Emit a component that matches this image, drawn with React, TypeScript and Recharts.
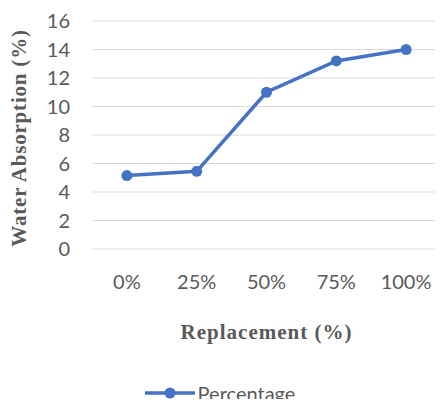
import React from 'react';
import {
  LineChart,
  Line,
  XAxis,
  YAxis,
  CartesianGrid,
  Legend,
  Label,
} from 'recharts';

const categories = ['0%', '25%', '50%', '75%', '100%'];
const percentage = [5.15, 5.45, 11.0, 13.2, 14.0];
const yTicks = [0, 2, 4, 6, 8, 10, 12, 14, 16];

const data = categories.map((name, i) => ({ name, Percentage: percentage[i] }));

const BLUE = '#4472C4';
const TEXT = '#595959';
const tickFont = { fontFamily: 'Lato', fontSize: 20, fill: TEXT };
const titleFont = 'Liberation Serif';

const LegendContent = () => (
  <div
    style={{
      height: 56,
      display: 'flex',
      alignItems: 'flex-end',
      justifyContent: 'center',
    }}
  >
    <div style={{ display: 'flex', alignItems: 'center', height: 24, marginLeft: -4 }}>
      <svg width={52} height={14}>
        <line x1={1} y1={7} x2={51} y2={7} stroke={BLUE} strokeWidth={3.5} />
        <circle cx={26} cy={7} r={5.5} fill={BLUE} />
      </svg>
      <span style={{ fontFamily: 'Lato', fontSize: 20, lineHeight: '24px', color: TEXT, marginLeft: 2 }}>
        Percentage
      </span>
    </div>
  </div>
);

export default function App() {
  return (
    <div style={{ margin: -8, width: 443, height: 407, background: '#fff' }}>
      <LineChart
        width={443}
        height={407}
        data={data}
        margin={{ top: 21, right: 2, bottom: 0, left: 0 }}
      >
        <CartesianGrid vertical={false} stroke="#d9d9d9" strokeWidth={1} />
        <XAxis
          dataKey="name"
          scale="band"
          axisLine={false}
          tickLine={false}
          tick={tickFont}
          tickMargin={20}
          height={100}
        >
          <Label
            content={({ viewBox }: any) => (
              <text
                x={viewBox.x + viewBox.width / 2}
                y={viewBox.y + 90}
                textAnchor="middle"
                fontFamily={titleFont}
                fontWeight="bold"
                fontSize={21}
                letterSpacing={1}
                fill={TEXT}
              >
                Replacement (%)
              </text>
            )}
          />
        </XAxis>
        <YAxis
          domain={[0, 16]}
          ticks={yTicks}
          interval={0}
          axisLine={false}
          tickLine={false}
          tick={tickFont}
          tickMargin={16}
          width={92}
        >
          <Label
            content={({ viewBox }: any) => {
              const cx = 19;
              const cy = viewBox.y + viewBox.height / 2 + 3;
              return (
                <text
                  x={cx}
                  y={cy}
                  transform={`rotate(-90 ${cx} ${cy})`}
                  textAnchor="middle"
                  dominantBaseline="central"
                  fontFamily={titleFont}
                  fontWeight="bold"
                  fontSize={21}
                  letterSpacing={0.8}
                  fill={TEXT}
                >
                  Water Absorption (%)
                </text>
              );
            }}
          />
        </YAxis>
        <Legend
          verticalAlign="bottom"
          height={58}
          wrapperStyle={{ top: 349, bottom: 'auto', left: 0, width: 443 }}
          content={<LegendContent />}
        />
        <Line
          type="linear"
          dataKey="Percentage"
          stroke={BLUE}
          strokeWidth={3.5}
          dot={{ r: 5.5, fill: BLUE, stroke: BLUE, strokeWidth: 0 }}
          activeDot={false}
          isAnimationActive={false}
        />
      </LineChart>
    </div>
  );
}
